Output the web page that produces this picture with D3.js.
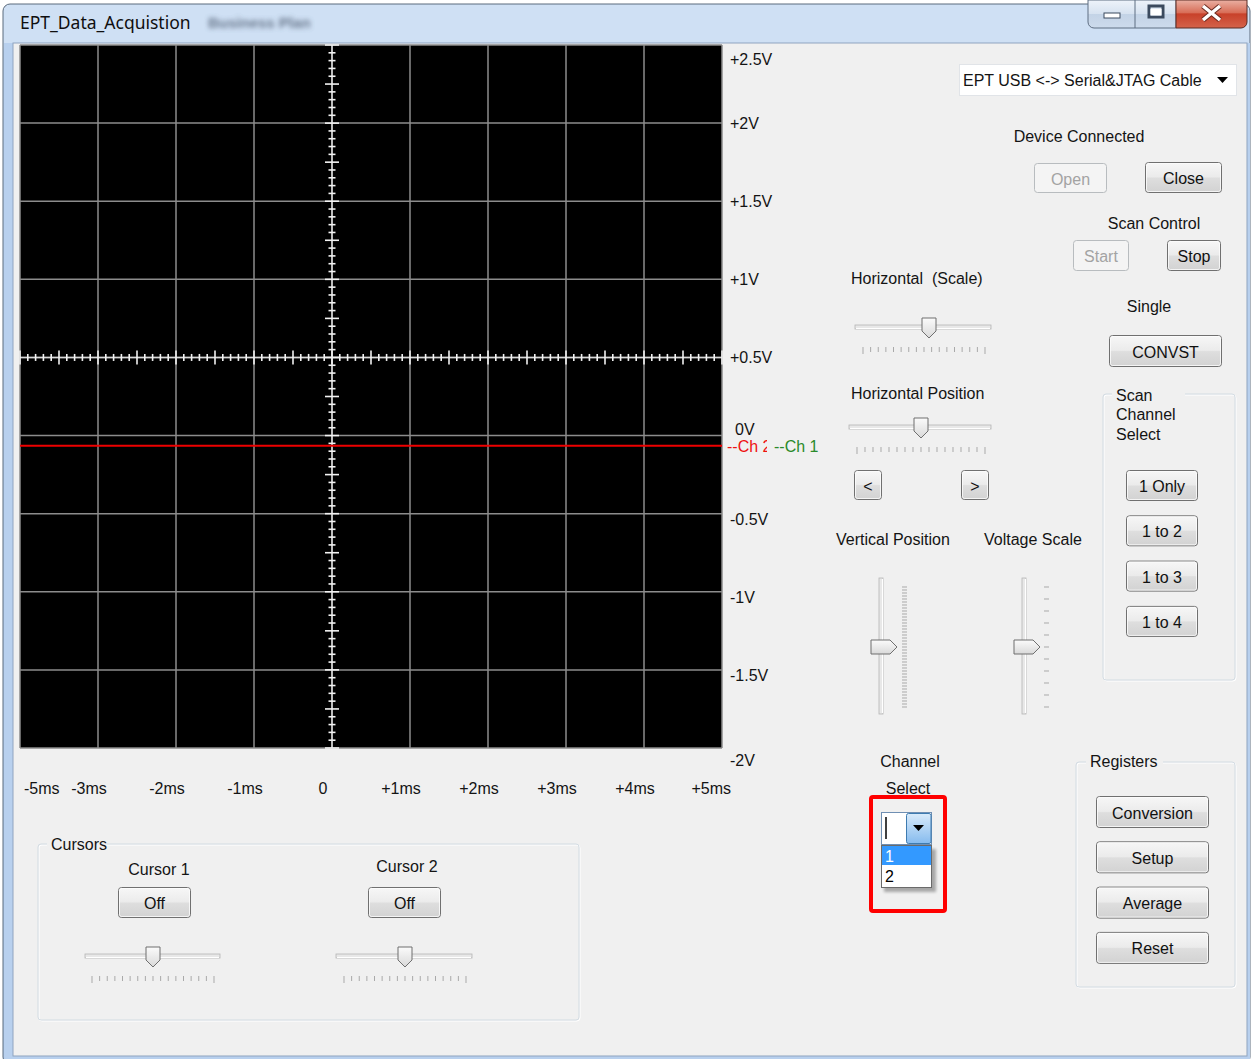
<!DOCTYPE html>
<html><head><meta charset="utf-8">
<script src="https://cdn.jsdelivr.net/npm/d3@7"></script>
<style>
html,body{margin:0;padding:0;background:#fff;overflow:hidden}
svg text{font-family:"Liberation Sans",Arial,sans-serif;font-size:16px;fill:#141414}
</style></head><body>
<script>
// ---- data ----
const yTickValues = [2.5, 2, 1.5, 1, 0.5, 0, -0.5, -1, -1.5, -2];
const yTickLabels = ["+2.5V", "+2V", "+1.5V", "+1V", "+0.5V", "0V", "-0.5V", "-1V", "-1.5V", "-2V"];
const xTickDivs = [0, 1, 2, 3, 4, 5, 6, 7, 8, 9];
const xTickLabels = ["-5ms", "-3ms", "-2ms", "-1ms", "0", "+1ms", "+2ms", "+3ms", "+4ms", "+5ms"];
const ch2Divs = [0, 1, 2, 3, 4, 5, 6, 7, 8, 9];
const ch2Volts = [-0.065, -0.065, -0.065, -0.065, -0.065, -0.065, -0.065, -0.065, -0.065, -0.065];
const channelLabels = ["--Ch 2", "--Ch 1"];
const scanButtons = ["1 Only", "1 to 2", "1 to 3", "1 to 4"];
const registerButtons = ["Conversion", "Setup", "Average", "Reset"];
const channelOptions = ["1", "2"];

const W = 1251, H = 1059;
const svg = d3.select("body").append("svg").attr("width", W).attr("height", H);
const defs = svg.append("defs");
function grad(id, stops) {
  const g = defs.append("linearGradient").attr("id", id).attr("x1", 0).attr("y1", 0).attr("x2", 0).attr("y2", 1);
  stops.forEach(s => g.append("stop").attr("offset", s[0]).attr("stop-color", s[1]));
}
grad("btnGrad", [[0, "#f7f7f7"], [0.48, "#ebebeb"], [0.52, "#dedede"], [1, "#d2d2d2"]]);
grad("titleGrad", [[0, "#cfe0f4"], [0.04, "#cfe0f4"], [0.045, "#bed6f2"], [1, "#b2cdee"]]);
grad("capGrad", [[0, "#eef3fa"], [0.5, "#d6e2f0"], [0.5, "#c3d3e6"], [1, "#cddbec"]]);
grad("closeGrad", [[0, "#eab0a3"], [0.45, "#d86e58"], [0.5, "#c8412a"], [1, "#d4634b"]]);
grad("thumbGrad", [[0, "#fbfbfb"], [1, "#d9d9d9"]]);
grad("dropGrad", [[0, "#d9ebfb"], [1, "#86bbee"]]);
const blur = defs.append("filter").attr("id", "blur").attr("x", -0.2).attr("y", -0.5).attr("width", 1.4).attr("height", 2);
blur.append("feGaussianBlur").attr("stdDeviation", 2.4);
const blur2 = defs.append("filter").attr("id", "blur2");
blur2.append("feGaussianBlur").attr("stdDeviation", 1.5);

// ---- window frame ----
svg.append("rect").attr("x", 3).attr("y", 4).attr("width", 1247).attr("height", 1060).attr("rx", 7)
  .attr("fill", "url(#titleGrad)").attr("stroke", "#5b6b7d").attr("stroke-width", 1);
svg.append("rect").attr("x", 4).attr("y", 43).attr("width", 1246).attr("height", 1020).attr("fill", "#b8d0ee");
svg.append("text").attr("x", 208).attr("y", 28).text("Business Plan")
  .attr("filter", "url(#blur)").style("fill", "#4f5d72").style("opacity", 0.8).style("font-size", "15px").style("font-weight", "bold");
svg.append("rect").attr("x", 13).attr("y", 43).attr("width", 1234).attr("height", 1013)
  .attr("fill", "#f0f0f0").attr("stroke", "#8fa4bf").attr("stroke-width", 1);
svg.append("text").attr("x", 20).attr("y", 22).attr("dominant-baseline", "central")
  .text("EPT_Data_Acquistion").style("font-family", "'Noto Sans','Open Sans',sans-serif").style("font-size", "17.5px").style("fill", "#0f0f0f");

// caption buttons
const cap = svg.append("g");
cap.append("path").attr("d", "M1088,0 V22 a6,6 0 0 0 6,6 H1176 V0 Z").attr("fill", "url(#capGrad)").attr("stroke", "#5f6e82");
cap.append("line").attr("x1", 1135).attr("x2", 1135).attr("y1", 0).attr("y2", 28).attr("stroke", "#5f6e82");
cap.append("path").attr("d", "M1176,0 V28 H1241 a6,6 0 0 0 6,-6 V0 Z").attr("fill", "url(#closeGrad)").attr("stroke", "#5a2a22");
cap.append("rect").attr("x", 1104).attr("y", 13).attr("width", 16).attr("height", 5).attr("fill", "#fff").attr("stroke", "#3b4a5e");
cap.append("rect").attr("x", 1149).attr("y", 6).attr("width", 14).attr("height", 11).attr("fill", "none").attr("stroke", "#3b4a5e").attr("stroke-width", 3);
cap.append("rect").attr("x", 1150.5).attr("y", 9).attr("width", 11).attr("height", 6.5).attr("fill", "#fff");
cap.append("path").attr("d", "M1203,6 L1220,20 M1220,6 L1203,20").attr("stroke", "#6b2a1f").attr("stroke-width", 5.5);
cap.append("path").attr("d", "M1203,6 L1220,20 M1220,6 L1203,20").attr("stroke", "#fff").attr("stroke-width", 3.5);

// ---- scope plot ----
const x = d3.scaleLinear().domain([0, 9]).range([20, 722]);
const y = d3.scaleLinear().domain([-2, 2.5]).range([748, 45]);
const plot = svg.append("g");
plot.append("rect").attr("x", x(0)).attr("y", y(2.5)).attr("width", x(9) - x(0)).attr("height", y(-2) - y(2.5)).attr("fill", "#000");
plot.selectAll(".vg").data(xTickDivs).join("line")
  .attr("x1", d => x(d)).attr("x2", d => x(d)).attr("y1", y(2.5)).attr("y2", y(-2))
  .attr("stroke", "#8c8c8c").attr("stroke-width", 1.5);
plot.selectAll(".hg").data(yTickValues).join("line")
  .attr("y1", d => y(d)).attr("y2", d => y(d)).attr("x1", x(0)).attr("x2", x(9))
  .attr("stroke", "#8c8c8c").attr("stroke-width", 1.5);
// center graticule axes
const cx = x(4), cy = y(0.5);
plot.append("line").attr("x1", cx).attr("x2", cx).attr("y1", y(2.5)).attr("y2", y(-2)).attr("stroke", "#d8d8d8").attr("stroke-width", 1.5);
plot.append("line").attr("y1", cy).attr("y2", cy).attr("x1", x(0)).attr("x2", x(9)).attr("stroke", "#d8d8d8").attr("stroke-width", 1.5);
const minor = d3.range(0, 91);
plot.selectAll(".tx").data(minor).join("line")
  .attr("x1", d => x(d / 10)).attr("x2", d => x(d / 10))
  .attr("y1", d => cy - (d % 5 === 0 ? 7 : 3.5)).attr("y2", d => cy + (d % 5 === 0 ? 7 : 3.5))
  .attr("stroke", "#f2f2f2").attr("stroke-width", 1.6);
plot.selectAll(".ty").data(minor).join("line")
  .attr("y1", d => y(-2 + d * 0.05)).attr("y2", d => y(-2 + d * 0.05))
  .attr("x1", d => cx - (d % 5 === 0 ? 7 : 3.5)).attr("x2", d => cx + (d % 5 === 0 ? 7 : 3.5))
  .attr("stroke", "#f2f2f2").attr("stroke-width", 1.6);
// channel 2 trace
const ch2 = ch2Divs.map((t, i) => ({ t, v: ch2Volts[i] }));
plot.append("path").datum(ch2)
  .attr("d", d3.line().x(d => x(d.t)).y(d => y(d.v)))
  .attr("fill", "none").attr("stroke", "#ee0000").attr("stroke-width", 2);

// y labels
svg.selectAll(".yl").data(yTickValues).join("text")
  .attr("x", d => d === 0 ? 735 : 730)
  .attr("y", (d, i) => {
    let p = y(d);
    if (i === 0) return p + 14;
    if (i === yTickValues.length - 1) return p + 12;
    if (d === 0) return p - 6;
    if (d < 0) return p + 6;
    return p;
  })
  .attr("dominant-baseline", "central")
  .text((d, i) => yTickLabels[i]);
// x labels
svg.selectAll(".xl").data(xTickDivs).join("text")
  .attr("x", (d, i) => i === 0 ? 24 : (i === xTickDivs.length - 1 ? 731 : x(d) - 9))
  .attr("y", 788).attr("dominant-baseline", "central")
  .attr("text-anchor", (d, i) => i === 0 ? "start" : (i === xTickDivs.length - 1 ? "end" : "middle"))
  .text((d, i) => xTickLabels[i]);
// channel marker labels
const chY = y(ch2Volts[0]);
svg.append("text").attr("x", 727).attr("y", chY + 1).attr("dominant-baseline", "central").style("fill", "#ee1111").text(channelLabels[0]);
svg.append("rect").attr("x", 767).attr("y", chY - 9).attr("width", 60).attr("height", 19).attr("fill", "#f0f0f0");
svg.append("text").attr("x", 774).attr("y", chY + 1).attr("dominant-baseline", "central").style("fill", "#2a8a2a").text(channelLabels[1]);

// ---- helpers ----
function label(txt, px, py, anchor) {
  return svg.append("text").attr("x", px).attr("y", py).attr("dominant-baseline", "central")
    .attr("text-anchor", anchor || "start").style("white-space", "pre").text(txt);
}
function button(txt, bx, by, bw, bh, disabled) {
  const g = svg.append("g");
  g.append("rect").attr("x", bx + 0.5).attr("y", by + 0.5).attr("width", bw - 1).attr("height", bh - 1).attr("rx", 3)
    .attr("fill", disabled ? "#f4f4f4" : "url(#btnGrad)").attr("stroke", disabled ? "#b8bcbf" : "#707070");
  if (!disabled) g.append("rect").attr("x", bx + 1.5).attr("y", by + 1.5).attr("width", bw - 3).attr("height", bh - 3).attr("rx", 2)
    .attr("fill", "none").attr("stroke", "#fcfcfc").attr("stroke-width", 1).attr("opacity", 0.8);
  g.append("text").attr("x", bx + bw / 2).attr("y", by + bh / 2 + 1).attr("text-anchor", "middle").attr("dominant-baseline", "central")
    .style("fill", disabled ? "#a3a3a3" : "#111").text(txt);
}
function group(gx, gy, gw, gh, gapX1, gapX2) {
  const g = svg.append("g");
  g.append("rect").attr("x", gx + 1).attr("y", gy + 1).attr("width", gw).attr("height", gh).attr("rx", 3).attr("fill", "none").attr("stroke", "#ffffff");
  g.append("rect").attr("x", gx).attr("y", gy).attr("width", gw).attr("height", gh).attr("rx", 3).attr("fill", "none").attr("stroke", "#d3dce3");
  g.append("rect").attr("x", gapX1).attr("y", gy - 3).attr("width", gapX2 - gapX1).attr("height", 6).attr("fill", "#f0f0f0");
}
function hSlider(x1, x2, ty, thumbX, tickX1, tickX2, nTicks) {
  const g = svg.append("g");
  g.append("rect").attr("x", x1).attr("y", ty - 2).attr("width", x2 - x1).attr("height", 4).attr("fill", "#e8e8e8").attr("stroke", "#b4b4b4").attr("stroke-width", 0.8);
  g.append("line").attr("x1", x1 + 1).attr("x2", x2 - 1).attr("y1", ty + 1.5).attr("y2", ty + 1.5).attr("stroke", "#fff");
  const ts = d3.range(nTicks).map(i => tickX1 + i * (tickX2 - tickX1) / (nTicks - 1));
  g.selectAll("line.t").data(ts).join("line").attr("x1", d => d).attr("x2", d => d)
    .attr("y1", ty + 20).attr("y2", (d, i) => ty + (i === 0 || i === nTicks - 1 ? 27 : 25)).attr("stroke", "#a9a9a9");
  g.append("path").attr("d", `M${thumbX - 7},${ty - 9} h14 v13 l-7,7 l-7,-7 z`)
    .attr("fill", "url(#thumbGrad)").attr("stroke", "#6f6f6f").attr("stroke-linejoin", "round");
}
function vSlider(tx, y1, y2, thumbY, tickXp, tickY1, tickY2, nTicks) {
  const g = svg.append("g");
  g.append("rect").attr("x", tx - 2).attr("y", y1).attr("width", 4).attr("height", y2 - y1).attr("fill", "#e8e8e8").attr("stroke", "#b4b4b4").attr("stroke-width", 0.8);
  g.append("line").attr("y1", y1 + 1).attr("y2", y2 - 1).attr("x1", tx + 1.5).attr("x2", tx + 1.5).attr("stroke", "#fff");
  const ts = d3.range(nTicks).map(i => tickY1 + i * (tickY2 - tickY1) / (nTicks - 1));
  g.selectAll("line.t").data(ts).join("line").attr("y1", d => d).attr("y2", d => d)
    .attr("x1", tickXp).attr("x2", tickXp + 5).attr("stroke", "#a9a9a9");
  g.append("path").attr("d", `M${tx - 10},${thumbY - 7} h19 l7,7 l-7,7 h-19 z`)
    .attr("fill", "url(#thumbGrad)").attr("stroke", "#6f6f6f").attr("stroke-linejoin", "round");
}

// ---- right panel ----
svg.append("rect").attr("x", 959.5).attr("y", 64.5).attr("width", 277).attr("height", 31).attr("fill", "#fff").attr("stroke", "#e1e4e8");
label("EPT USB <-> Serial&JTAG Cable", 963, 80);
svg.append("path").attr("d", "M1217,77 h11 l-5.5,6 z").attr("fill", "#000");

label("Device Connected", 1079, 136, "middle");
button("Open", 1034, 163, 73, 30, true);
button("Close", 1145, 162, 77, 31);
label("Scan Control", 1154, 223, "middle");
button("Start", 1073, 240, 56, 31, true);
button("Stop", 1167, 240, 54, 31);
label("Single", 1149, 306, "middle");
button("CONVST", 1109, 335, 113, 32);

group(1103, 394, 132, 286, 1112, 1185);
label("Scan", 1116, 395);
label("Channel", 1116, 414);
label("Select", 1116, 434);
scanButtons.forEach((b, i) => button(b, 1126, 470 + i * 45.3, 72, 31));

label("Horizontal  (Scale)", 851, 278);
hSlider(855, 991, 327, 929, 863, 985, 17);
label("Horizontal Position", 851, 393);
hSlider(849, 991, 427, 921, 857, 985, 17);
button("<", 854, 470, 28, 30);
button(">", 961, 470, 28, 30);

label("Vertical Position", 836, 539);
label("Voltage Scale", 984, 539);
vSlider(881, 578, 714, 647, 902, 587, 707, 41);
vSlider(1024, 578, 714, 647, 1044, 587, 707, 11);

label("Channel", 910, 761, "middle");
label("Select", 908, 788, "middle");
// channel select combo (open)
svg.append("rect").attr("x", 884).attr("y", 849).attr("width", 52).attr("height", 43).attr("fill", "#000").attr("opacity", 0.3).attr("filter", "url(#blur2)");
svg.append("rect").attr("x", 881.5).attr("y", 812.5).attr("width", 50).attr("height", 32).attr("fill", "#fff").attr("stroke", "#6f8fb3");
svg.append("rect").attr("x", 906.5).attr("y", 813.5).attr("width", 24.5).attr("height", 30).attr("rx", 2).attr("fill", "url(#dropGrad)").attr("stroke", "#3d7bb0");
svg.append("path").attr("d", "M913,825 h11 l-5.5,6 z").attr("fill", "#000");
svg.append("line").attr("x1", 886).attr("x2", 886).attr("y1", 817).attr("y2", 839).attr("stroke", "#000").attr("stroke-width", 1.5);
svg.append("rect").attr("x", 881.5).attr("y", 845.5).attr("width", 50).attr("height", 42).attr("fill", "#fff").attr("stroke", "#6a6a6a");
svg.append("rect").attr("x", 882).attr("y", 846).attr("width", 49).attr("height", 19).attr("fill", "#3399ff");
svg.selectAll(".opt").data(channelOptions).join("text")
  .attr("x", 885).attr("y", (d, i) => 856 + i * 20).attr("dominant-baseline", "central")
  .style("fill", (d, i) => i === 0 ? "#fff" : "#000").text(d => d);
svg.append("rect").attr("x", 871).attr("y", 797).attr("width", 74).attr("height", 114).attr("rx", 2)
  .attr("fill", "none").attr("stroke", "#ff0000").attr("stroke-width", 4);

group(1076, 762, 159, 225, 1086, 1163);
label("Registers", 1090, 761);
registerButtons.forEach((b, i) => button(b, 1096, 796 + i * 45.3, 113, 32));

// ---- cursors ----
group(38, 844, 541, 176, 47, 107);
label("Cursors", 51, 844);
label("Cursor 1", 159, 869, "middle");
label("Cursor 2", 407, 866, "middle");
button("Off", 118, 887, 73, 31);
button("Off", 368, 887, 73, 31);
hSlider(85, 220, 956, 153, 92, 214, 17);
hSlider(336, 472, 956, 405, 344, 466, 17);
</script>
</body></html>
